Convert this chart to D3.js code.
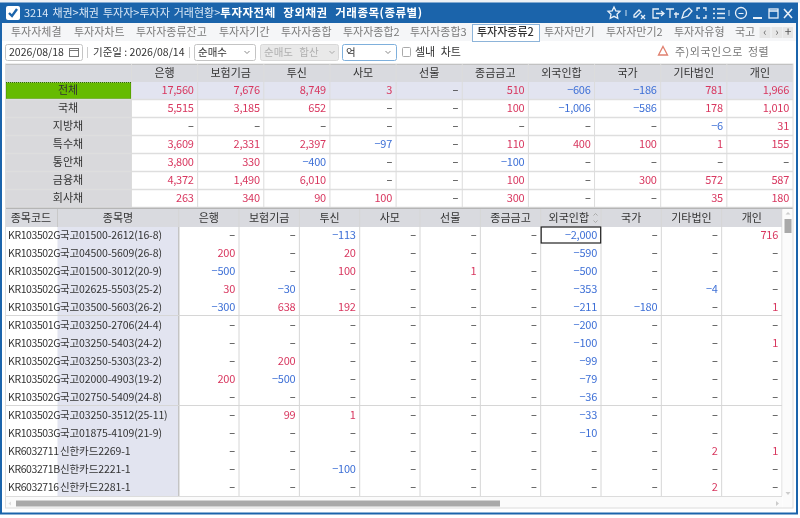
<!DOCTYPE html>
<html><head><meta charset="utf-8">
<script src="https://cdn.jsdelivr.net/npm/d3@7"></script>
<style>
html,body{margin:0;padding:0;background:#fff;overflow:hidden}
svg{display:block;filter:blur(.3px)}
text{font-family:"Noto Sans CJK KR","Noto Sans",sans-serif;font-size:11px;fill:#333;}
.num{letter-spacing:-.25px}
</style></head><body><svg id="c" width="800" height="518"></svg>
<script>
const titleLeft = "3214 채권>채권 투자자>투자자 거래현황>";
const titleBold = "투자자전체 장외채권 거래종목(종류별)";
const tabs = ["투자자체결","투자자차트","투자자종류잔고","투자자기간","투자자종합","투자자종합2","투자자종합3","투자자종류2","투자자만기","투자자만기2","투자자유형","국고"];
const tabStarts = [11,74,136,219,281,343,410,477,544,606,674,735];
const investors = ["은행","보험기금","투신","사모","선물","종금금고","외국인합","국가","기타법인","개인"];

const bondTypes = ["전체","국채","지방채","특수채","통안채","금융채","회사채"];
const sumTotal   = [17560,7676,8749,3,null,510,-606,-186,781,1966];
const sumGovt    = [5515,3185,652,null,null,100,-1006,-586,178,1010];
const sumLocal   = [null,null,null,null,null,null,null,null,-6,31];
const sumSpecial = [3609,2331,2397,-97,null,110,400,100,1,155];
const sumMsb     = [3800,330,-400,null,null,-100,null,null,null,null];
const sumFin     = [4372,1490,6010,null,null,100,null,300,572,587];
const sumCorp    = [263,340,90,100,null,300,null,null,35,180];
const summary = [sumTotal,sumGovt,sumLocal,sumSpecial,sumMsb,sumFin,sumCorp];

const codes = ["KR103502G","KR103502G","KR103502G","KR103502G","KR103501G","KR103501G","KR103502G","KR103502G","KR103502G","KR103502G","KR103502G","KR103503G","KR6032711","KR603271B","KR6032716"];
const names = ["국고01500-2612(16-8)","국고04500-5609(26-8)","국고01500-3012(20-9)","국고02625-5503(25-2)","국고03500-5603(26-2)","국고03250-2706(24-4)","국고03250-5403(24-2)","국고03250-5303(23-2)","국고02000-4903(19-2)","국고02750-5409(24-8)","국고03250-3512(25-11)","국고01875-4109(21-9)","신한카드2269-1","신한카드2221-1","신한카드2281-1"];
const det0  = [null,null,-113,null,null,null,-2000,null,null,716];
const det1  = [200,null,20,null,null,null,-590,null,null,null];
const det2  = [-500,null,100,null,1,null,-500,null,null,null];
const det3  = [30,-30,null,null,null,null,-353,null,-4,null];
const det4  = [-300,638,192,null,null,null,-211,-180,null,1];
const det5  = [null,null,null,null,null,null,-200,null,null,null];
const det6  = [null,null,null,null,null,null,-100,null,null,1];
const det7  = [null,200,null,null,null,null,-99,null,null,null];
const det8  = [200,-500,null,null,null,null,-79,null,null,null];
const det9  = [null,null,null,null,null,null,-36,null,null,null];
const det10 = [null,99,1,null,null,null,-33,null,null,null];
const det11 = [null,null,null,null,null,null,-10,null,null,null];
const det12 = [null,null,null,null,null,null,null,null,2,1];
const det13 = [null,null,-100,null,null,null,null,null,null,null];
const det14 = [null,null,null,null,null,null,null,null,2,null];
const detail = [det0,det1,det2,det3,det4,det5,det6,det7,det8,det9,det10,det11,det12,det13,det14];

const RED="#d8375f", BLUE="#3d6fd6", HEAD="#d9dadf", NAVY="#1b64ab";
const svg=d3.select("#c");
const fmt=d3.format(",");
const col=v=>v==null?"#222":v<0?BLUE:RED;
const txt=v=>v==null?"–":fmt(v);
const rect=(g,x,y,w,h,f,s)=>g.append("rect").attr("x",x).attr("y",y).attr("width",w).attr("height",h).attr("fill",f).attr("stroke",s||"none");
const line=(g,x1,y1,x2,y2,s,w)=>g.append("line").attr("x1",x1).attr("y1",y1).attr("x2",x2).attr("y2",y2).attr("stroke",s).attr("stroke-width",w||1);
const label=(g,x,y,t,a,f,size)=>g.append("text").attr("x",x).attr("y",y).attr("dy","0.36em").attr("text-anchor",a||"start").style("fill",f||"#333").style("font-size",(size||11)+"px").text(t);

// window backdrop
rect(svg,0,0,800,518,"#ffffff");
rect(svg,0,0,800,3,"#eef1f5");
rect(svg,1,3,796,511,"#ffffff");
svg.append("rect").attr("x",1).attr("y",3.5).attr("width",796).attr("height",510).attr("fill","none").attr("stroke",NAVY).attr("stroke-width",2);
// title bar
rect(svg,1,3,796,20,NAVY);
rect(svg,6,6,14,14,"#fff").attr("rx",2);
svg.append("path").attr("d","M9 13l3 3 5-7").attr("fill","none").attr("stroke",NAVY).attr("stroke-width",2.4);
const tt=svg.append("text").attr("x",24).attr("y",13.5).attr("dy","0.36em").style("fill","#fff").style("font-size","11px");
tt.append("tspan").text(titleLeft).style("fill","#dbe8f6").style("word-spacing","1.5px");
tt.append("tspan").text(titleBold).style("font-weight","700").style("fill","#fff").style("font-size","11.5px").style("letter-spacing",".5px").style("word-spacing","4.5px");
// title icons
const ic=svg.append("g").attr("fill","none").attr("stroke","#e8f0f8").attr("stroke-width",1.3);
ic.append("path").attr("d","M614 7l1.8 3.8 4.2.5-3 2.9.8 4.1-3.8-2-3.8 2 .8-4.1-3-2.9 4.2-.5z");
line(ic,626,10,626,16,"#cfe0f0");
ic.append("path").attr("d","M634 15l5-5 2 2-5 5h-2z M641 15l4 4 M645 15l-4 4");
ic.append("path").attr("d","M659 9h-6v9h6 M656 13.5h8 M661 11l3 2.5-3 2.5");
ic.append("path").attr("d","M666 9h8 M670 9v9 M674 14h5 M676 12v6");
ic.append("path").attr("d","M682 18l2-6 5-4 3 3-4 5z");
ic.append("path").attr("d","M697 11V8h3 M703 8h3v3 M706 15v3h-3 M700 18h-3v-3");
ic.append("path").attr("d","M713 9h2 M713 13.5h2 M713 18h2 M717 9h8 M717 13.5h8 M717 18h8");
line(ic,729,10,729,16,"#cfe0f0");
ic.append("circle").attr("cx",741).attr("cy",13).attr("r",5.5);
line(ic,738.5,13.5,743.5,13.5,"#e8f0f8");
line(ic,753,18,762,18,"#e8f0f8",2);
ic.append("rect").attr("x",769).attr("y",9).attr("width",9).attr("height",9);
line(ic,769,11,778,11,"#e8f0f8",1.5);
ic.append("path").attr("d","M784 9l8 9 M792 9l-8 9").attr("stroke-width",1.6);

// tabs
rect(svg,2,23,794,18,"#f5f6f8");
rect(svg,472.5,24.5,67,17,"#fff","#8db4d9");
svg.append("g").selectAll("text").data(tabs).join("text")
 .attr("x",(d,i)=>tabStarts[i]).attr("y",32).attr("dy","0.36em")
 .style("font-size","11px").style("fill",(d,i)=>i===7?"#333":"#7a7a7a")
 .style("font-weight",(d,i)=>i===7?"500":"400").text(d=>d);
[["‹",765],["›",777]].forEach(([s,x])=>{rect(svg,x-5.5,27,11,11,"#e6e6e6");label(svg,x,32,s,"middle","#666",11);});
rect(svg,783,27,10,11,"#e6e6e6");label(svg,788,32,"+","middle","#555",12);

// toolbar
const tb=svg.append("g");
rect(tb,5.5,44.5,77,16,"#fff","#c4c4c4").attr("rx",2);
label(tb,9,52,"2026/08/18","start","#333",10.5);
tb.append("rect").attr("x",69.5).attr("y",48.5).attr("width",9).attr("height",8).attr("fill","none").attr("stroke","#777");
line(tb,69.5,50.5,78.5,50.5,"#777");
line(tb,87.5,47,87.5,58,"#ccc");
label(tb,93,52,"기준일 : 2026/08/14","start","#333",10.5);
line(tb,189.5,47,189.5,58,"#ccc");
rect(tb,194.5,44.5,61,16,"#fff","#c4c4c4").attr("rx",2);
label(tb,198,52,"순매수","start","#333",10.5);
rect(tb,260.5,44.5,78,16,"#e9e9e9","#d8d8d8").attr("rx",2);
label(tb,264,52,"순매도 합산","start","#b0b0b0",10.5).style("word-spacing","4px");
rect(tb,342.5,44.5,54,16,"#fff","#7fb0dc").attr("rx",2);
label(tb,346,52,"억","start","#333",10.5);
[[247,"#888"],[332,"#aaa"],[388,"#888"]].forEach(([x,c])=>tb.append("path").attr("d",`M${x-2.5} 51l2.5 2.5 2.5-2.5`).attr("fill","none").attr("stroke",c));
rect(tb,402.5,47.5,8,9,"#fff","#aaa").attr("rx",1);
label(tb,415,52,"셀내 차트","start","#333",11).style("word-spacing","3px");
tb.append("path").attr("d","M663 46.5l4.5 8.5h-9z").attr("fill","#fff").attr("stroke","#e0806f").attr("stroke-width",1.3);
label(tb,675,52,"주)외국인으로 정렬","start","#777",11).style("letter-spacing",".5px").style("word-spacing","2px");

// summary table
const sx=d3.scaleBand().domain(d3.range(10)).range([131.5,793]);
const sy=d3.scaleBand().domain(d3.range(7)).range([81.5,207.5]);
const st=svg.append("g");
rect(st,5,64,788,18,HEAD);
line(st,5,64.5,793,64.5,"#a8a8a8",1);
rect(st,5,82,126.5,126,"#d9d9dc");
rect(st,131.5,82,661.5,126,"#fff");
rect(st,131.5,82,661.5,18,"#e2e4f0");
st.append("rect").attr("x",6).attr("y",82.5).attr("width",125).attr("height",16.5).attr("fill","#66bb00").attr("stroke","#2e6b00").attr("stroke-dasharray","1 1");
sy.domain().forEach(i=>line(st,5,sy(i)+18,793,sy(i)+18,"#dedede",1.4));
sx.domain().forEach(i=>{line(st,sx(i),64,sx(i),207,"#dcdcdc");});
st.selectAll("text.h").data(investors).join("text").attr("class","h").attr("x",(d,i)=>sx(i)+sx.bandwidth()/2).attr("y",73).attr("dy","0.36em").attr("text-anchor","middle").text(d=>d);
st.selectAll("text.bt").data(bondTypes).join("text").attr("class","bt").attr("x",68).attr("y",(d,i)=>sy(i)+9).attr("dy","0.36em").attr("text-anchor","middle").text(d=>d);
st.selectAll("g.r").data(summary).join("g").attr("class","r").attr("transform",(d,i)=>`translate(0,${sy(i)+9})`)
 .selectAll("text").data(d=>d).join("text").attr("class","num").attr("x",(d,i)=>sx(i)+sx.bandwidth()-4).attr("dy","0.36em").attr("text-anchor","end").style("fill",col).text(txt);
line(st,5,208.5,793,208.5,"#b5b5b5",1.5);

// detail table
const dx=d3.scaleBand().domain(d3.range(10)).range([178.7,782]);
const dy=d3.scaleBand().domain(d3.range(15)).range([226.5,496.5]);
const dt=svg.append("g");
rect(dt,5,209,777,18,HEAD);
rect(dt,57.5,227,121,270,"#e2e4f0");
dx.domain().forEach(i=>line(dt,dx(i),209,dx(i),496,"#d6d6d6"));
line(dt,782,209,782,496,"#d6d6d6");
line(dt,178.7,227,178.7,496,"#c4c4c4",1.4);
line(dt,57.5,209,57.5,227,"#c8c8c8");
line(dt,5,315.5,782,315.5,"#d6d6d6");
line(dt,5,405.5,782,405.5,"#d6d6d6");
line(dt,5,496.5,782,496.5,"#dcdcdc");
label(dt,31,218,"종목코드","middle");
label(dt,118,218,"종목명","middle");
dt.selectAll("text.h").data(investors).join("text").attr("class","h").attr("x",(d,i)=>dx(i)+dx.bandwidth()/2-(i===6?2:0)).attr("y",218).attr("dy","0.36em").attr("text-anchor","middle").text(d=>d);
dt.append("path").attr("d","M593.5 215.5l2-2 2 2 M593.5 220.5l2 2 2-2").attr("fill","none").attr("stroke","#aaa");
dt.selectAll("text.c").data(codes).join("text").attr("class","c").attr("x",8).attr("y",(d,i)=>dy(i)+9).attr("dy","0.36em").style("font-size","10.5px").style("letter-spacing","-.4px").text(d=>d);
dt.selectAll("text.n").data(names).join("text").attr("class","n").attr("x",60).attr("y",(d,i)=>dy(i)+9).attr("dy","0.36em").style("font-size","10.5px").style("letter-spacing","-.1px").text(d=>d);
dt.selectAll("g.r").data(detail).join("g").attr("class","r").attr("transform",(d,i)=>`translate(0,${dy(i)+9})`)
 .selectAll("text").data(d=>d).join("text").attr("class","num").attr("x",(d,i)=>dx(i)+dx.bandwidth()-4).attr("dy","0.36em").attr("text-anchor","end").style("fill",col).text(txt);
dt.append("rect").attr("x",dx(6)+.5).attr("y",dy(0)+.5).attr("width",59.5).attr("height",16).attr("fill","none").attr("stroke","#222").attr("stroke-width",1.2);

// scrollbars
const sb=svg.append("g");
rect(sb,782.5,209,10.5,299,"#fbfbfb");
rect(sb,784.5,219,7,14,"#a9a9a9");
sb.append("path").attr("d","M785.5 214.5l2.5-2.5 2.5 2.5").attr("fill","#ccc");
sb.append("path").attr("d","M785.5 492l2.5 3 2.5-3").attr("fill","#ccc");
rect(sb,5,497,777,11,"#fbfbfb");
rect(sb,16,500.5,484,6,"#a9a9a9");
sb.append("path").attr("d","M11 501.5l-2.5 2 2.5 2").attr("fill","#ddd");
sb.append("path").attr("d","M776 501l3 2.5-3 2.5").attr("fill","#ccc");
svg.append("rect").attr("x",5.5).attr("y",64).attr("width",787.5).attr("height",444).attr("fill","none").attr("stroke","#dcdcdc");
</script></body></html>
